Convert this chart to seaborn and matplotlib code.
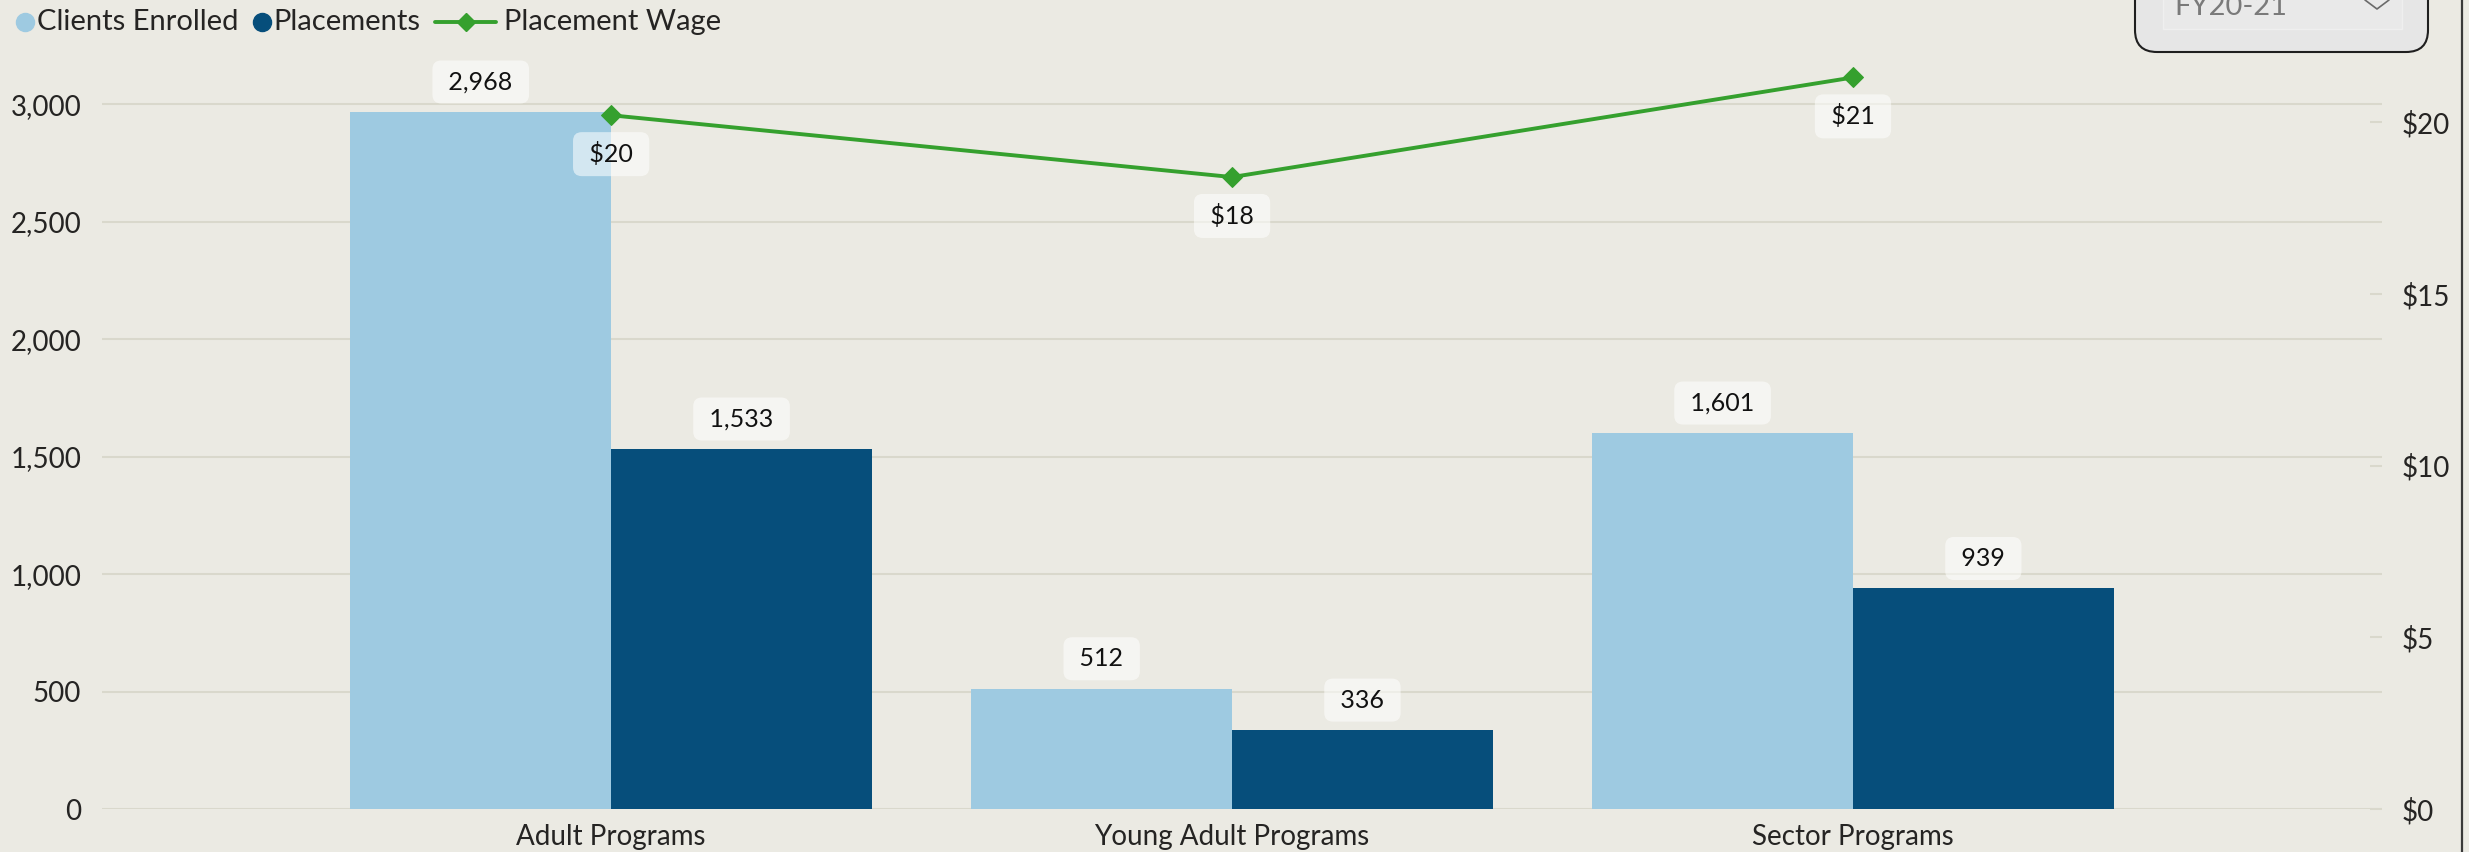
import numpy as np
import pandas as pd
import matplotlib
matplotlib.use("Agg")
import matplotlib.pyplot as plt
import seaborn as sns
from matplotlib.lines import Line2D
from matplotlib.patches import FancyBboxPatch, Rectangle
from matplotlib.ticker import FuncFormatter, MultipleLocator
from matplotlib.transforms import IdentityTransform

# ------------------------------------------------------------
# data
# ------------------------------------------------------------
programs = ["Adult Programs", "Young Adult Programs", "Sector Programs"]
clients_enrolled = [2968, 512, 1601]
placements = [1533, 336, 939]
placement_wage = [20.2, 18.4, 21.3]
series_names = ["Clients Enrolled", "Placements", "Placement Wage"]
fiscal_year = "FY20-21"

# colours
BG = "#EBEAE3"
GRID = "#D9D8CC"
LIGHT = "#9ECAE1"
DARK = "#064E7B"
GREEN = "#35A02E"
TEXT = "#252423"

W, H = 2469, 852


def fx(px):
    return px / W


def fy(py):
    return 1 - py / H


sns.set_theme(style="white")
plt.rcParams["font.family"] = ["Lato", "DejaVu Sans"]

fig = plt.figure(figsize=(W / 100, H / 100), dpi=100, facecolor=BG)
ax = fig.add_axes([fx(102), fy(809), fx(2382) - fx(102), fy(50) - fy(809)])
ax.set_facecolor(BG)

# ------------------------------------------------------------
# bars
# ------------------------------------------------------------
df = pd.DataFrame({
    "program": programs * 2,
    "measure": [series_names[0]] * 3 + [series_names[1]] * 3,
    "value": clients_enrolled + placements,
})
sns.barplot(data=df, x="program", y="value", hue="measure",
            palette=[LIGHT, DARK], saturation=1, width=0.84, gap=0,
            linewidth=0, legend=False, ax=ax)

label_box = dict(boxstyle="round,pad=0.4,rounding_size=0.35",
                 fc="white", ec="none", alpha=0.55)

for cont in ax.containers:
    for bar in cont:
        v = bar.get_height()
        ax.annotate(f" {v:,.0f} ", (bar.get_x() + bar.get_width() / 2, v),
                    xytext=(0, 21.6), textcoords="offset points",
                    ha="center", va="center", fontsize=18, color="#111111",
                    bbox=label_box, zorder=5)

ax.set_ylim(0, 3232)
ax.yaxis.set_major_locator(MultipleLocator(500))
ax.yaxis.set_major_formatter(FuncFormatter(lambda v, p: f"{v:,.0f}"))
ax.grid(axis="y", color=GRID, lw=1.5)
ax.set_axisbelow(True)
for s in ax.spines.values():
    s.set_visible(False)
ax.tick_params(axis="y", length=0, pad=15, labelsize=20, labelcolor=TEXT)
ax.tick_params(axis="x", length=0, pad=11, labelsize=20, labelcolor=TEXT)
ax.set_xlabel("")
ax.set_ylabel("")

# ------------------------------------------------------------
# wage line on secondary axis
# ------------------------------------------------------------
ax2 = ax.twinx()
sns.lineplot(x=np.arange(len(programs)), y=placement_wage, ax=ax2,
             color=GREEN, lw=2.8, marker="D", ms=10, mec=GREEN, zorder=4)
for i, v in enumerate(placement_wage):
    ax2.annotate(f" ${v:.0f} ", (i, v), xytext=(0, -28), textcoords="offset points",
                 ha="center", va="center", fontsize=18, color="#111111",
                 bbox=label_box, zorder=6)

ax2.set_ylim(0, 22.1)
ax2.yaxis.set_major_locator(MultipleLocator(5))
ax2.yaxis.set_major_formatter(FuncFormatter(lambda v, p: f"${v:.0f}"))
ax2.tick_params(axis="y", direction="in", length=9, width=1.5, color=GRID,
                pad=14, labelsize=20, labelcolor=TEXT)
ax2.grid(False)
for s in ax2.spines.values():
    s.set_visible(False)
ax2.set_ylabel("")
ax.set_xlim(-0.82, 2.852)

# ------------------------------------------------------------
# legend (drawn by hand, power bi style)
# ------------------------------------------------------------
renderer = fig.canvas.get_renderer()
cursor = 16
leg_y = 22
for name, col, kind in zip(series_names, [LIGHT, DARK, GREEN], ["o", "o", "line"]):
    if kind == "o":
        fig.add_artist(Line2D([fx(cursor + 9)], [fy(leg_y)], marker="o", ms=13,
                              color=col, ls="none", transform=fig.transFigure))
        cursor += 21
    else:
        fig.add_artist(Line2D([fx(cursor), fx(cursor + 61)], [fy(leg_y)] * 2,
                              color=col, lw=2.8, transform=fig.transFigure))
        fig.add_artist(Line2D([fx(cursor + 31)], [fy(leg_y)], marker="D", ms=9,
                              color=col, ls="none", transform=fig.transFigure))
        cursor += 69
    t = fig.text(fx(cursor), fy(leg_y), name, ha="left", va="center",
                 fontsize=21, color=TEXT)
    cursor = t.get_window_extent(renderer).x1 + 14

# ------------------------------------------------------------
# slicer box top right + right border
# ------------------------------------------------------------
fig.add_artist(FancyBboxPatch((2135, H - 52), 293, 100,
                              boxstyle="round,pad=0,rounding_size=22",
                              fc="#E6E6E6", ec="#1F1F1F", lw=1.5,
                              transform=IdentityTransform()))
fig.add_artist(Rectangle((2163, H - 29), 239, 40, fc="#E9E9E9", ec="#EFEFEF",
                         lw=1, transform=IdentityTransform()))
fig.text(2174, H - 15, fiscal_year, transform=IdentityTransform(),
         ha="left", va="baseline", fontsize=21, color="#7A7A7A")
fig.add_artist(Line2D([2365, 2377, 2389], [H, H - 9, H], color="#6A6A6A",
                      lw=1.2, transform=IdentityTransform()))
fig.add_artist(Line2D([fx(2462)] * 2, [0, 1], color="#3A3A3A", lw=1.6,
                      transform=fig.transFigure))

plt.savefig("out.png", dpi=100, facecolor=BG)
plt.close()
